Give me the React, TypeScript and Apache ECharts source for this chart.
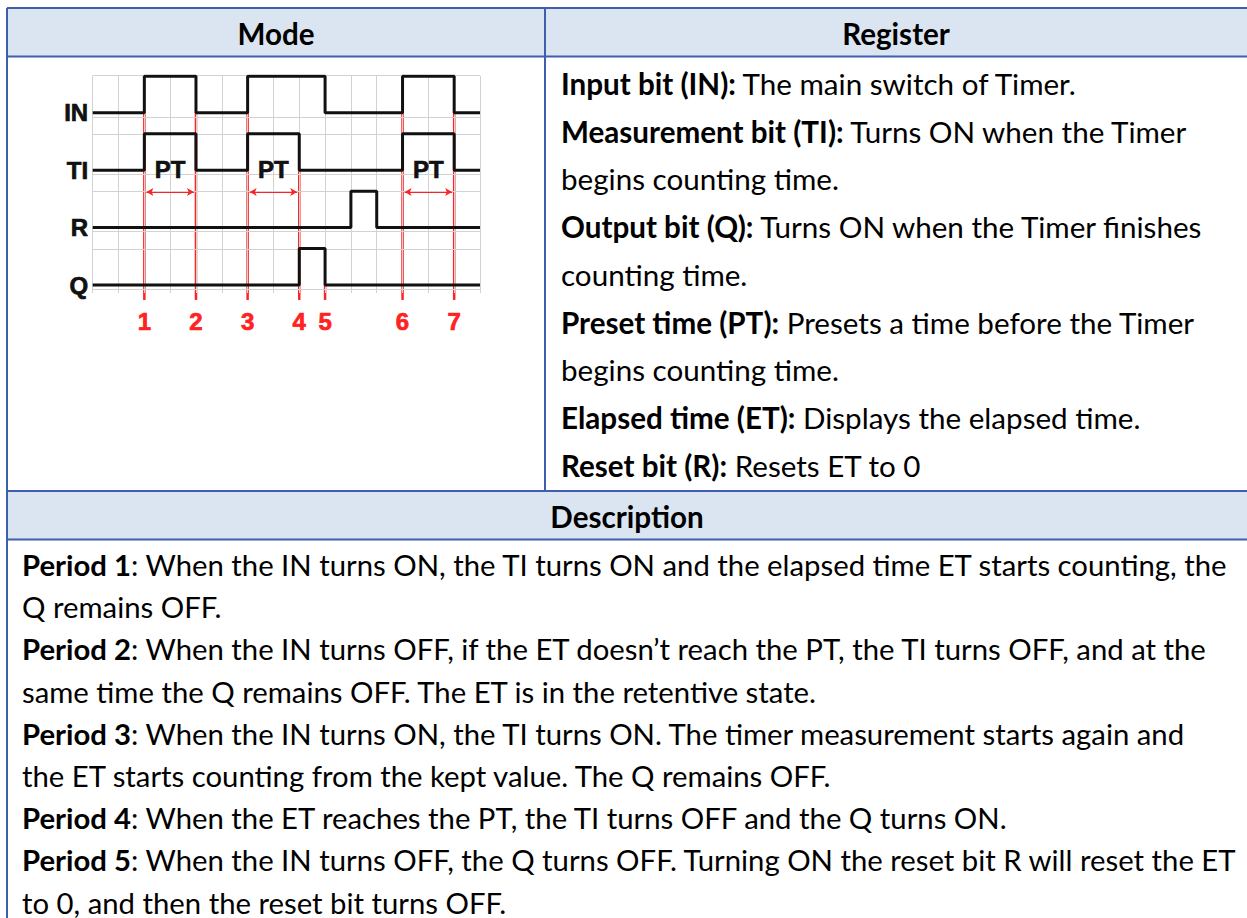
import React, { useEffect, useRef } from 'react';
import * as echarts from 'echarts';

// ---------- data ----------
const laneNames = ['IN', 'TI', 'R', 'Q'];
const laneBase = [3, 2, 1, 0];
const inStates = [[0, 0], [2, 1], [4, 0], [6, 1], [9, 0], [12, 1], [14, 0], [15, 0]];
const tiStates = [[0, 0], [2, 1], [4, 0], [6, 1], [8, 0], [12, 1], [14, 0], [15, 0]];
const rStates = [[0, 0], [10, 1], [11, 0], [15, 0]];
const qStates = [[0, 0], [8, 1], [9, 0], [15, 0]];
const laneStates = [inStates, tiStates, rStates, qStates];
const periodLabels = ['1', '2', '3', '4', '5', '6', '7'];
const periodTimes = [2, 4, 6, 8, 9, 12, 14];
const periodTopLane = [3, 3, 3, 2, 0, 3, 3];
const ptSpans = [[2, 4], [6, 8], [12, 14]];
const ptText = 'PT';
const timeGrid = [0, 1, 2, 3, 4, 5, 6, 7, 8, 9, 10, 11, 12, 13, 14, 15];
const levelGrid = [3.645, 2.93, 2.63, 1.933, 1.64, 0.94, 0.627, -0.07];

const headerLabels = ['Mode', 'Register', 'Description'];
const registerLines: [string, string][] = [
  ['Input bit (IN):', ' The main switch of Timer.'],
  ['Measurement bit (TI):', ' Turns ON when the Timer'],
  ['', 'begins counting time.'],
  ['Output bit (Q):', ' Turns ON when the Timer finishes'],
  ['', 'counting time.'],
  ['Preset time (PT):', ' Presets a time before the Timer'],
  ['', 'begins counting time.'],
  ['Elapsed time (ET):', ' Displays the elapsed time.'],
  ['Reset bit (R):', ' Resets ET to 0'],
];
const descriptionLines: [string, string][] = [
  ['Period 1', ': When the IN turns ON, the TI turns ON and the elapsed time ET starts counting, the'],
  ['', 'Q remains OFF.'],
  ['Period 2', ': When the IN turns OFF, if the ET doesn\u2019t reach the PT, the TI turns OFF, and at the'],
  ['', 'same time the Q remains OFF. The ET is in the retentive state.'],
  ['Period 3', ': When the IN turns ON, the TI turns ON. The timer measurement starts again and'],
  ['', 'the ET starts counting from the kept value. The Q remains OFF.'],
  ['Period 4', ': When the ET reaches the PT, the TI turns OFF and the Q turns ON.'],
  ['Period 5', ': When the IN turns OFF, the Q turns OFF. Turning ON the reset bit R will reset the ET'],
  ['', 'to 0, and then the reset bit turns OFF.'],
];

// ---------- layout ----------
const W = 1247;
const H = 918;
const FONT = 'Lato';
const DIAG_FONT = '"Liberation Sans", Arial, sans-serif';
const BORDER = '#3e5fae';
const HEAD_FILL = '#dbe5f1';
const HIGH = 0.635;
const RED = '#ff2222';
const INK = '#111111';

function measure(ctx: CanvasRenderingContext2D, segs: [string, string], size: number) {
  ctx.font = `bold ${size}px ${FONT}`;
  const a = ctx.measureText(segs[0]).width;
  ctx.font = `${size}px ${FONT}`;
  const b = ctx.measureText(segs[1]).width;
  return a + b;
}

export default function App() {
  const ref = useRef<HTMLDivElement>(null);
  useEffect(() => {
    if (!ref.current) return;
    const chart = echarts.init(ref.current, null, { renderer: 'svg' });
    const cv = document.createElement('canvas');
    const ctx = cv.getContext('2d') as CanvasRenderingContext2D;
    const descSize = Math.round((100 * 1206) / measure(ctx, descriptionLines[0], 100) * 10) / 10;
    const regSize = Math.round((100 * 628) / measure(ctx, registerLines[1], 100) * 10) / 10;

    const graphics: any[] = [];
    graphics.push({ type: 'rect', shape: { x: 7, y: 8, width: W - 7, height: 48.5 }, style: { fill: HEAD_FILL }, z: 1 });
    graphics.push({ type: 'rect', shape: { x: 7, y: 491, width: W - 7, height: 48.5 }, style: { fill: HEAD_FILL }, z: 1 });
    const lines = [
      [7, 8, W, 8],
      [7, 56.5, W, 56.5],
      [545, 8, 545, 491],
      [7, 491, W, 491],
      [7, 539.5, W, 539.5],
      [7, 8, 7, H],
    ];
    lines.forEach(([x1, y1, x2, y2]) =>
      graphics.push({ type: 'line', shape: { x1, y1, x2, y2 }, style: { stroke: BORDER, lineWidth: 2 }, z: 2 })
    );
    const mkText = (x: number, y: number, segs: [string, string], size: number, align = 'left') => {
      const t = (segs[0] ? `{b|${segs[0]}}` : '') + segs[1];
      return {
        type: 'text',
        x,
        y,
        z: 3,
        style: {
          text: t,
          fontSize: size,
          fontFamily: FONT,
          fill: '#000',
          align,
          verticalAlign: 'middle',
          textAlign: align,
          textVerticalAlign: 'middle',
          rich: { b: { fontWeight: 'bold', fontSize: size, fontFamily: FONT, fill: '#000' } },
        },
      };
    };
    graphics.push(mkText(276, 33, [headerLabels[0], ''], regSize, 'center'));
    graphics.push(mkText(896, 33, [headerLabels[1], ''], regSize, 'center'));
    graphics.push(mkText(627, 516, [headerLabels[2], ''], regSize, 'center'));
    registerLines.forEach((s, i) => graphics.push(mkText(561, 83.5 + i * 47.7, s, regSize)));
    descriptionLines.forEach((s, i) => graphics.push(mkText(22, 564.5 + i * 42.2, s, descSize)));

    const series: any[] = [];
    series.push({
      type: 'line',
      data: [],
      silent: true,
      markLine: {
        silent: true,
        symbol: ['none', 'none'],
        label: { show: false },
        lineStyle: { color: '#d2d2d2', width: 1, type: 'solid' },
        data: [
          ...timeGrid.map((t) => [{ coord: [t, -0.14] }, { coord: [t, 3.645] }]),
          ...levelGrid.map((v) => [{ coord: [0, v] }, { coord: [15, v] }]),
        ],
      },
      z: 1,
    });
    periodTimes.forEach((t, i) => {
      series.push({
        type: 'line',
        data: [[t, periodTopLane[i]], [t, -0.26]],
        symbol: 'none',
        lineStyle: { color: RED, width: 2.5 },
        silent: true,
        z: 2,
      });
    });
    laneStates.forEach((st, k) => {
      series.push({
        type: 'line',
        step: 'end',
        data: st.map(([t, s]) => [t, laneBase[k] + s * HIGH]),
        symbol: 'none',
        lineStyle: { color: INK, width: 3 },
        silent: true,
        z: 5,
      });
    });
    series.push({
      type: 'line',
      data: [],
      silent: true,
      markLine: {
        silent: true,
        symbol: ['arrow', 'arrow'],
        symbolSize: [6, 7],
        label: { show: false },
        lineStyle: { color: RED, width: 1.2, type: 'solid' },
        data: ptSpans.map(([a, b]) => [{ coord: [a + 0.08, 1.62] }, { coord: [b - 0.08, 1.62] }]),
      },
      z: 3,
    });
    const labelSeries = (data: number[][], texts: string[], color: string, position: string, size: number) => ({
      type: 'scatter',
      data,
      symbolSize: 1,
      itemStyle: { color: 'transparent', opacity: 1 },
      label: {
        show: true,
        position,
        distance: 4,
        formatter: (p: any) => texts[p.dataIndex],
        fontFamily: DIAG_FONT,
        fontWeight: 'bold',
        fontSize: size,
        color,
        opacity: 1,
        textBorderColor: color,
        textBorderWidth: 0.7,
      },
      silent: true,
      z: 6,
    });
    series.push(
      labelSeries(
        ptSpans.map(([a, b]) => [(a + b) / 2, 2.02]),
        ptSpans.map(() => ptText),
        INK,
        'inside',
        24
      )
    );
    series.push(labelSeries(laneBase.map((b) => [0, b]), laneNames, INK, 'left', 24));
    series.push(labelSeries(periodTimes.map((t) => [t, -0.635]), periodLabels, RED, 'inside', 24));

    chart.setOption({
      animation: false,
      backgroundColor: '#fff',
      grid: { left: 92.7, top: 75.7, width: 387.3, height: 261.0, containLabel: false, show: false },
      xAxis: { type: 'value', min: 0, max: 15, show: false, splitLine: { show: false } },
      yAxis: { type: 'value', min: -0.9, max: 3.645, show: false, splitLine: { show: false } },
      graphic: graphics,
      series,
    });
    return () => chart.dispose();
  }, []);
  return (
    <div
      ref={ref}
      style={{ position: 'fixed', left: 0, top: 0, width: W, height: H, background: '#fff' }}
    />
  );
}
